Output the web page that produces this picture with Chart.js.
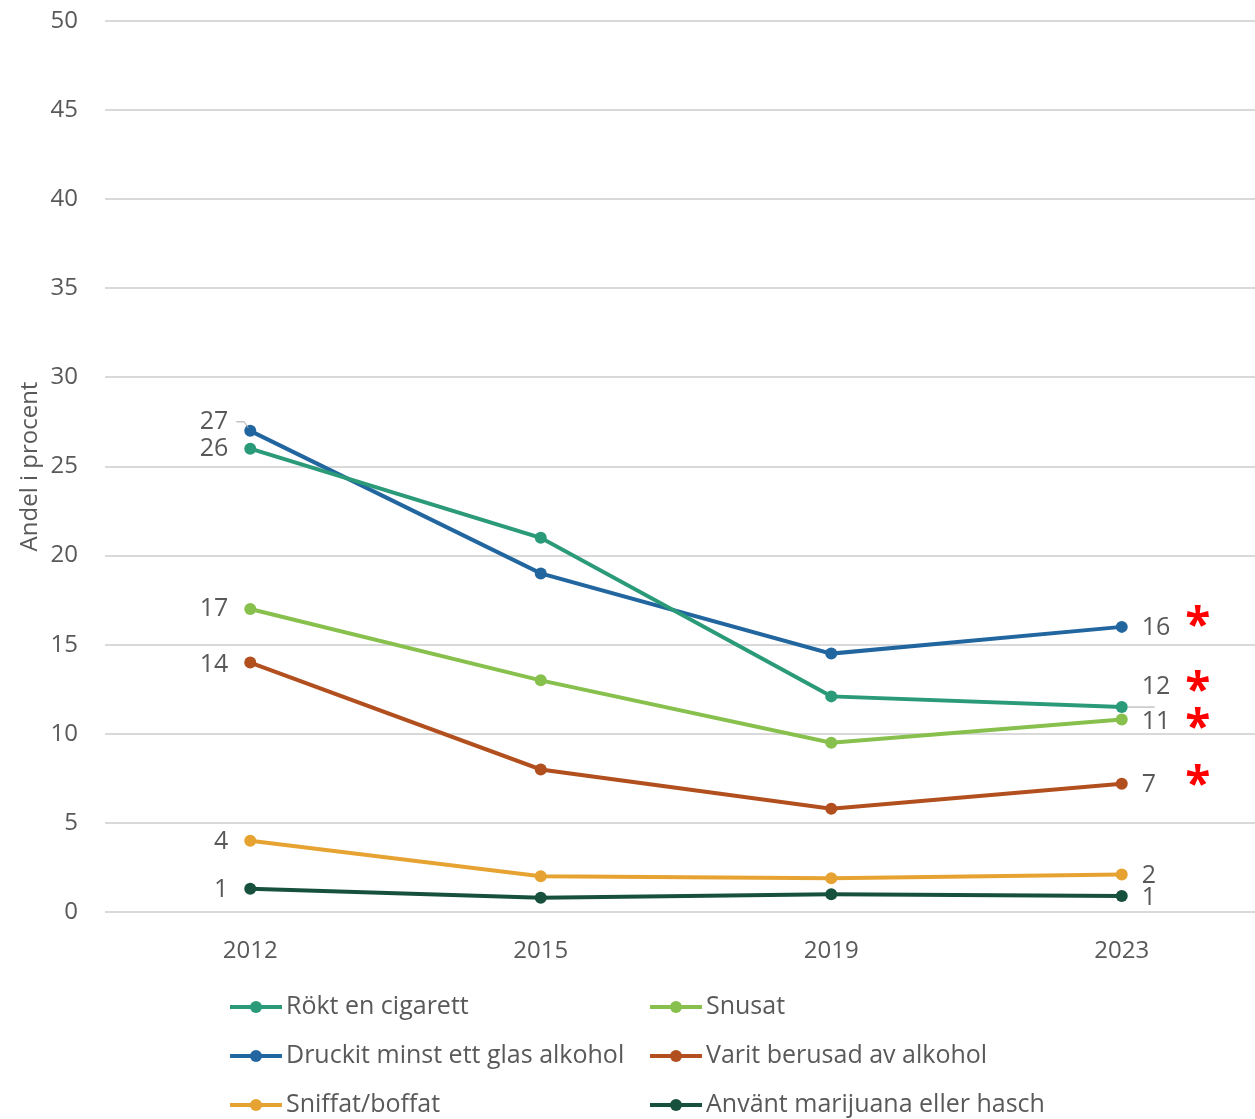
<!DOCTYPE html>
<html>
<head>
<meta charset="utf-8">
<script src="https://cdn.jsdelivr.net/npm/chart.js@4.4.1/dist/chart.umd.min.js"></script>
<style>
  html, body { margin: 0; padding: 0; background: #fff; overflow: hidden; }
  #wrap { position: relative; width: 1273px; height: 1119px; }
</style>
</head>
<body>
<div id="wrap"><canvas id="chart"></canvas></div>
<script>
// --- data ---
const years = ['2012', '2015', '2019', '2023'];
const rokt = [26, 21, 12.1, 11.5];
const snusat = [17, 13, 9.5, 10.8];
const druckit = [27, 19, 14.5, 16];
const berusad = [14, 8, 5.8, 7.2];
const sniffat = [4, 2, 1.9, 2.1];
const marijuana = [1.3, 0.8, 1.0, 0.9];
const seriesNames = [
    'Rökt en cigarett',
    'Snusat',
    'Druckit minst ett glas alkohol',
    'Varit berusad av alkohol',
    'Sniffat/boffat',
    'Använt marijuana eller hasch'
];
const significant = [true, true, true, true, false, false];
const yTicks = [0, 5, 10, 15, 20, 25, 30, 35, 40, 45, 50];

const FONT = '"Open Sans", "DejaVu Sans", sans-serif';
const TEXT = '#595959';
const colors = ['#2a9a78', '#88c04e', '#2266a0', '#b24f1e', '#e6a332', '#17513e'];
// vertical nudges for the end labels (first / last point) and asterisks, in px
const labelDy = [[0, 0, 0, -20], [0, 0, 0, 2], [-9, 0, 0, 1], [2, 0, 0, 1], [1, 0, 0, 1], [1, 0, 0, 2]];
const asteriskDy = [-23, 1, -8, -6, 0, 0];

const seriesValues = [rokt, snusat, druckit, berusad, sniffat, marijuana];

const datasets = seriesValues.map((vals, i) => ({
    label: seriesNames[i],
    data: vals,
    borderColor: colors[i],
    backgroundColor: colors[i],
    pointBackgroundColor: colors[i],
    pointBorderColor: colors[i],
    borderWidth: 4,
    pointRadius: 6,
    pointBorderWidth: 0,
    tension: 0,
    significant: significant[i],
    labelDy: labelDy[i],
    asteriskDy: asteriskDy[i]
}));

// end labels, leader lines and red asterisks
const endLabels = {
    id: 'endLabels',
    afterDatasetsDraw(chart) {
        const ctx = chart.ctx;
        ctx.save();
        ctx.font = '25px ' + FONT;
        ctx.fillStyle = TEXT;
        ctx.textBaseline = 'middle';
        chart.data.datasets.forEach((ds, i) => {
            const meta = chart.getDatasetMeta(i);
            const last = ds.data.length - 1;
            [0, last].forEach(idx => {
                const pt = meta.data[idx];
                const dy = ds.labelDy[idx] || 0;
                const y = pt.y + dy;
                const txt = String(Math.round(ds.data[idx]));
                if (idx === 0) {
                    ctx.textAlign = 'right';
                    ctx.fillText(txt, pt.x - 22, y);
                    if (Math.abs(dy) > 5) {
                        ctx.strokeStyle = '#a6a6a6';
                        ctx.lineWidth = 1;
                        ctx.beginPath();
                        ctx.moveTo(pt.x - 14, y);
                        ctx.lineTo(pt.x - 6, y);
                        ctx.lineTo(pt.x - 2, pt.y - 3);
                        ctx.stroke();
                    }
                } else {
                    ctx.textAlign = 'left';
                    ctx.fillText(txt, pt.x + 20, y);
                    if (Math.abs(dy) > 5) {
                        ctx.strokeStyle = '#a6a6a6';
                        ctx.lineWidth = 1;
                        ctx.beginPath();
                        ctx.moveTo(pt.x + 6, pt.y);
                        ctx.lineTo(pt.x + 33, pt.y);
                        ctx.stroke();
                    }
                    if (ds.significant) {
                        ctx.save();
                        ctx.fillStyle = '#ff0000';
                        ctx.textAlign = 'center';
                        ctx.font = 'bold 46px ' + FONT;
                        // glyph sits ~9px above the middle baseline
                        ctx.fillText('*', pt.x + 76, pt.y + ds.asteriskDy + 9);
                        ctx.restore();
                    }
                }
            });
        });
        ctx.restore();
    }
};

// two-column legend under the chart
const legendCols = [230, 650];
const legendRows = [1007, 1056, 1105];
const bottomLegend = {
    id: 'bottomLegend',
    afterDraw(chart) {
        const ctx = chart.ctx;
        ctx.save();
        ctx.font = '25px ' + FONT;
        ctx.textBaseline = 'middle';
        ctx.textAlign = 'left';
        chart.data.datasets.forEach((ds, i) => {
            const x = legendCols[i % 2];
            const y = legendRows[Math.floor(i / 2)];
            ctx.strokeStyle = ds.borderColor;
            ctx.fillStyle = ds.borderColor;
            ctx.lineWidth = 4;
            ctx.beginPath();
            ctx.moveTo(x, y);
            ctx.lineTo(x + 52, y);
            ctx.stroke();
            ctx.beginPath();
            ctx.arc(x + 26, y, 6, 0, Math.PI * 2);
            ctx.fill();
            ctx.fillStyle = TEXT;
            ctx.fillText(ds.label, x + 56, y);
        });
        ctx.restore();
    }
};

new Chart(document.getElementById('chart'), {
    type: 'line',
    data: { labels: years, datasets },
    options: {
        responsive: true,
        maintainAspectRatio: false,
        animation: false,
        layout: { padding: { top: 21, right: 0, bottom: 0, left: 0 } },
        plugins: {
            legend: { display: false },
            tooltip: { enabled: false }
        },
        scales: {
            x: {
                offset: true,
                grid: { display: false, drawTicks: false },
                border: { display: false },
                ticks: { color: TEXT, font: { family: FONT, size: 24 }, padding: 25 },
                afterFit(scale) { scale.height = 207; }
            },
            y: {
                min: 0,
                max: 50,
                afterBuildTicks(scale) { scale.ticks = yTicks.map(v => ({ value: v })); },
                grid: { color: '#d9d9d9', lineWidth: 2, drawTicks: false },
                border: { display: false },
                ticks: { color: TEXT, font: { family: FONT, size: 24 }, padding: 27 },
                title: {
                    display: true,
                    text: 'Andel i procent',
                    color: TEXT,
                    font: { family: FONT, size: 24 },
                    padding: { top: 16, bottom: 0 }
                },
                afterFit(scale) {
                    scale.width = 105;
                    // tick padding would otherwise push the plot area down
                    scale.paddingTop = 0;
                    scale.paddingBottom = 0;
                }
            }
        }
    },
    plugins: [endLabels, bottomLegend]
});
</script>
</body>
</html>
